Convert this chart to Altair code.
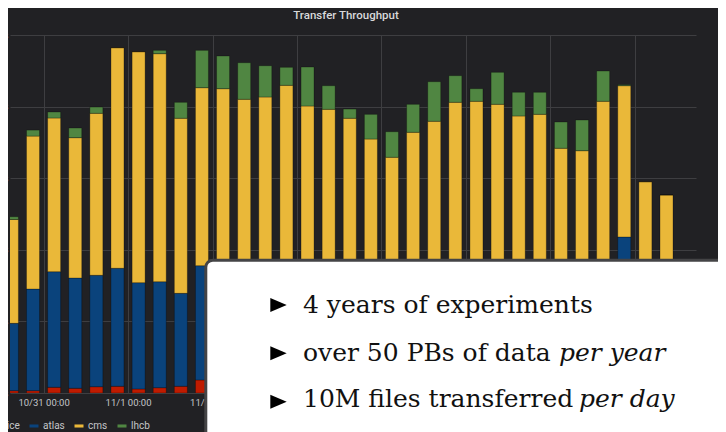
import json
import altair as alt
import pandas as pd

# ---------------- data ----------------
series = ["alice", "atlas", "cms", "lhcb"]
colors = ["#BF1B00", "#0A437C", "#EAB839", "#508642"]

# bar time stamps, hours relative to 10/31 00:00 (one bar per 6 hours)
hours = [-9, -3, 3, 9, 15, 21, 27, 33, 39, 45, 51, 57, 63, 69, 75, 81,
         87, 93, 99, 105, 111, 117, 123, 129, 135, 141, 147, 153, 159, 165, 171, 177]

# throughput per experiment (GB/s)
alice = [0.32, 0.32, 0.80, 0.66, 0.88, 0.94, 0.56, 0.74, 0.94, 1.82,
         1.1, 0.9, 1.3, 0.8, 1.0, 0.7, 0.9, 1.2, 0.8, 0.6, 1.0,
         0.9, 1.1, 0.8, 0.7, 0.9, 1.0, 0.8, 1.2, 0.9, 0.6, 0.5]
atlas = [9.41, 14.20, 16.14, 15.40, 15.56, 16.48, 14.85, 14.80, 12.98, 15.96,
         15.2, 14.6, 15.9, 16.3, 14.8, 15.5, 13.9, 14.2, 13.6, 14.9, 15.8,
         16.1, 15.3, 14.7, 15.6, 14.1, 13.8, 15.2, 16.0, 20.89, 12.4, 11.8]
cms = [14.50, 21.36, 21.47, 19.60, 22.62, 30.81, 32.26, 31.85, 24.45, 24.86,
       26.20, 25.52, 24.14, 25.87, 24.28, 23.42, 23.57, 20.07, 18.52, 20.91, 21.15,
       23.60, 24.34, 24.82, 22.39, 23.92, 19.38, 17.84, 23.54, 21.13, 16.51, 15.35]
lhcb = [0.39, 0.84, 0.84, 1.35, 0.88, 0.0, 0.0, 0.47, 2.23, 5.22,
        4.57, 5.11, 4.37, 2.52, 5.45, 3.30, 1.29, 3.45, 3.57, 3.91, 5.53,
        3.72, 1.76, 4.47, 3.31, 3.08, 3.67, 4.29, 4.23, 0.14, 0.0, 0.0]

day_ticks = [0, 24, 48, 72, 96, 120, 144, 168]
# only the first three day labels are visible; the rest sit under the text box
day_labels = ["10/31 00:00", "11/1 00:00", "11/2 00:00", "", "", "", "", ""]
y_ticks = [0, 10, 20, 30, 40, 50]

title_text = "Transfer Throughput"
line1 = "4 years of experiments"
line2_reg = "over 50 PBs of data"
line2_it = "per year"
line3_reg = "10M files transferred"
line3_it = "per day"

# ---------------- table ----------------
rows = []
values = {"alice": alice, "atlas": atlas, "cms": cms, "lhcb": lhcb}
for k, s in enumerate(series):
    for h, v in zip(hours, values[s]):
        rows.append({"t": h, "series": s, "rate": v, "ord": k})
df = pd.DataFrame(rows)

BG = "#212124"
GRID = "#3e3e41"
TXT = "#c4c6c9"

label_expr = json.dumps(day_labels) + "[round(datum.value / 24)]"

bars = alt.Chart(df).mark_bar(
    size=13, clip=True, stroke="#000000", strokeOpacity=0.28, strokeWidth=1
).encode(
    x=alt.X("t:Q",
            scale=alt.Scale(domain=[-8.12, 183.96], nice=False, zero=False),
            axis=alt.Axis(values=day_ticks, labelExpr=label_expr, title=None,
                          grid=True, gridColor=GRID, ticks=False, domain=False,
                          labelPadding=4, labelFontSize=9.5, labelFont="Roboto",
                          labelColor=TXT, labelOverlap=False)),
    y=alt.Y("sum(rate):Q", stack="zero",
            scale=alt.Scale(domain=[0, 50], nice=False),
            axis=alt.Axis(values=y_ticks, title=None, grid=True, gridColor=GRID,
                          ticks=False, domain=False, labelExpr="datum.value + ' GB/s'",
                          labelFontSize=10, labelFont="Roboto", labelColor=TXT)),
    color=alt.Color("series:N",
                    scale=alt.Scale(domain=series, range=colors),
                    legend=alt.Legend(orient="none", legendX=-25, legendY=386,
                                      direction="horizontal", title=None,
                                      gridAlign="none",
                                      symbolType="M-1,-0.34H1V0.34H-1Z",
                                      symbolSize=81, symbolStrokeWidth=0,
                                      symbolOpacity=1,
                                      labelFontSize=10, labelFont="Roboto",
                                      labelColor=TXT, labelOffset=4,
                                      columnPadding=9, padding=0)),
    order=alt.Order("ord:Q", sort="ascending"),
)

title = alt.Chart(pd.DataFrame({"s": [title_text]})).mark_text(
    font="Roboto", fontSize=11.5, fontWeight=500, color="#d8d9da",
    align="center", baseline="middle"
).encode(text="s:N", x=alt.value(336), y=alt.value(-19))

box = alt.Chart(pd.DataFrame({"s": [""]})).mark_rect(
    fill="#ffffff", stroke="#444446", strokeWidth=3, cornerRadiusTopLeft=7,
    clip=False
).encode(x=alt.value(195.8), x2=alt.value(760), y=alt.value(225.2), y2=alt.value(430))

def txt(s, x, y, italic=False):
    return alt.Chart(pd.DataFrame({"s": [s]})).mark_text(
        font="DejaVu Serif", fontSize=25, color="#111111", align="left",
        baseline="alphabetic", fontStyle="italic" if italic else "normal"
    ).encode(text="s:N", x=alt.value(x), y=alt.value(y))

bullet_path = "M-1,-0.85L1,0L-1,0.85Z"
def bullet(y):
    return alt.Chart(pd.DataFrame({"s": [""]})).mark_point(
        shape=bullet_path, size=270, filled=True, color="#000000", opacity=1
    ).encode(x=alt.value(268.5), y=alt.value(y))

layers = [
    bars, title, box,
    bullet(270), bullet(318.3), bullet(366.7),
    txt(line1, 293, 278.3),
    txt(line2_reg, 293, 326), txt(line2_it, 549, 326, italic=True),
    txt(line3_reg, 293, 372), txt(line3_it, 569, 372, italic=True),
]

chart = alt.layer(*layers).properties(
    width=686, height=358,
    autosize=alt.AutoSizeParams(type="none"),
    padding={"left": 2, "top": 27, "right": 22, "bottom": 39},
    background=BG,
).configure_view(stroke=None)

chart.save("out.html", embed_options={"renderer": "svg", "actions": False})
